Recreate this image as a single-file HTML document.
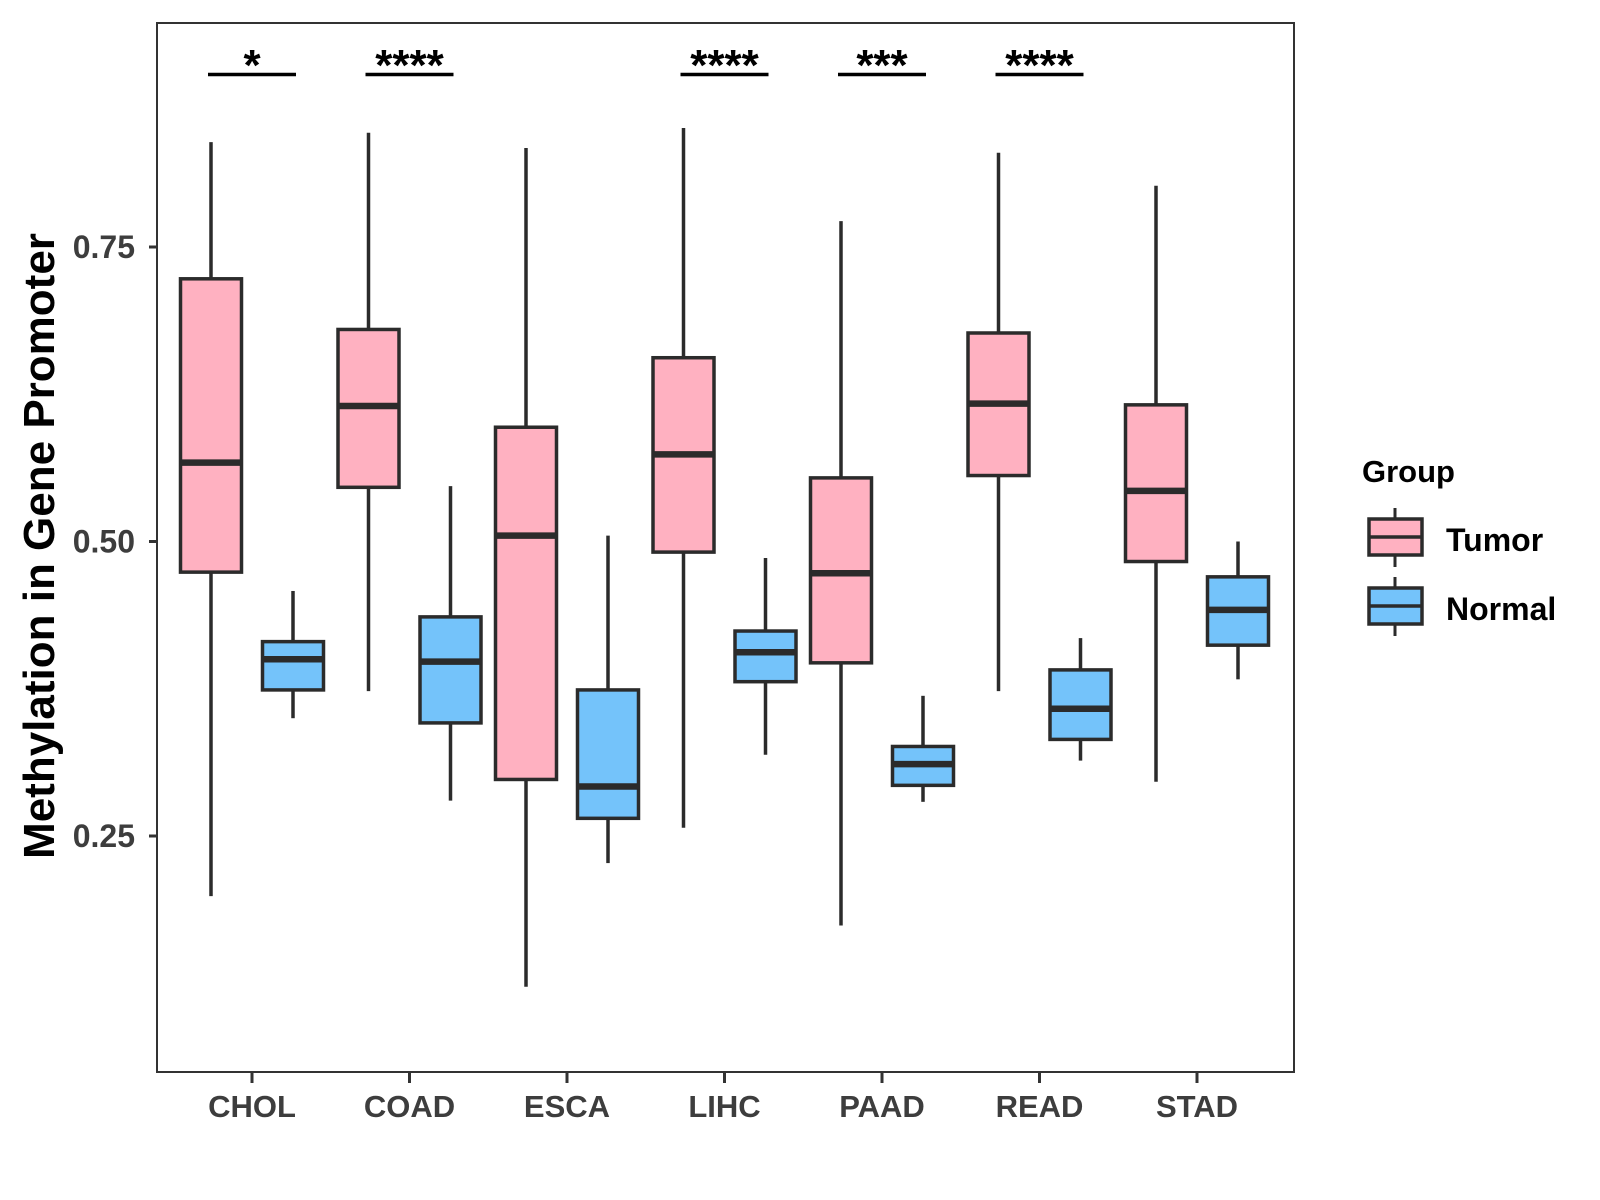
<!DOCTYPE html>
<html><head><meta charset="utf-8"><style>
body{margin:0;background:#fff}
svg{display:block;font-family:"Liberation Sans",Arial,sans-serif;font-weight:bold}
</style></head><body>
<svg id="chart" width="1600" height="1200" viewBox="0 0 1600 1200"></svg>
<script>
const categories=["CHOL","COAD","ESCA","LIHC","PAAD","READ","STAD"];
// [whiskerLow, Q1, median, Q3, whiskerHigh]
const tumorStats=[[0.199,0.474,0.567,0.723,0.839],[0.373,0.546,0.615,0.680,0.847],[0.122,0.298,0.505,0.597,0.834],[0.257,0.491,0.574,0.656,0.851],[0.174,0.397,0.473,0.554,0.772],[0.373,0.556,0.617,0.677,0.830],[0.296,0.483,0.543,0.616,0.802]];
const normalStats=[[0.350,0.374,0.400,0.415,0.458],[0.280,0.346,0.398,0.436,0.547],[0.227,0.265,0.292,0.374,0.505],[0.319,0.381,0.406,0.424,0.486],[0.279,0.293,0.311,0.326,0.369],[0.314,0.332,0.358,0.391,0.418],[0.383,0.412,0.442,0.470,0.500]];
const sigLabels=["*","****","","****","***","****",""];
const yTicks=[0.25,0.50,0.75];
const yTickLabels=["0.25","0.50","0.75"];

const NS="http://www.w3.org/2000/svg";
const svg=document.getElementById("chart");
const L=157,R=1294,T=23,B=1072;
function y(v){return 247+(0.75-v)*1178;}
function x(i){return 252+i*157.5;}
function el(tag,attrs,parent){const e=document.createElementNS(NS,tag);for(const k in attrs)e.setAttribute(k,attrs[k]);(parent||svg).appendChild(e);return e;}
const ink="#2b2b2b";

const frame=el("rect",{x:L,y:T,width:R-L,height:B-T,fill:"none",stroke:"#333",["stroke-width"]:2});



yTicks.forEach((v,i)=>{
  const t=el("line",{x1:L-8,x2:L,y1:y(v),y2:y(v),stroke:"#333","stroke-width":3});
  
  
  const tx=el("text",{x:L-22,y:y(v)+11,"text-anchor":"end","font-size":32,fill:"#3d3d3d"});
  tx.textContent=yTickLabels[i];
  
  
});
categories.forEach((c,i)=>{
  const t=el("line",{x1:x(i),x2:x(i),y1:B,y2:B+11,stroke:"#333","stroke-width":3});
  
  
  const tx=el("text",{x:x(i),y:1117,"text-anchor":"middle","font-size":31,fill:"#3d3d3d"});
  tx.textContent=c;
  
  
});
const yt=el("text",{x:0,y:0,transform:"translate(54,546) rotate(-90)","text-anchor":"middle","font-size":44,fill:"#000"});
yt.textContent="Methylation in Gene Promoter";



function box(cx,s,fill,name){
  const g=el("g",{});
  
  
  const hw=30.5;
  el("line",{x1:cx,x2:cx,y1:y(s[4]),y2:y(s[3]),stroke:ink,"stroke-width":3.5},g);
  el("line",{x1:cx,x2:cx,y1:y(s[1]),y2:y(s[0]),stroke:ink,"stroke-width":3.5},g);
  el("rect",{x:cx-hw,y:y(s[3]),width:2*hw,height:y(s[1])-y(s[3]),fill:fill,stroke:ink,"stroke-width":3.5},g);
  el("line",{x1:cx-hw,x2:cx+hw,y1:y(s[2]),y2:y(s[2]),stroke:ink,"stroke-width":6.5},g);
}
categories.forEach((c,i)=>{
  box(x(i)-41,tumorStats[i],"#FFB1C1","box-tumor-"+c.toLowerCase());
  box(x(i)+41,normalStats[i],"#74C3FA","box-normal-"+c.toLowerCase());
  if(sigLabels[i]){
    const b=el("line",{x1:x(i)-44,x2:x(i)+44,y1:74.5,y2:74.5,stroke:"#000","stroke-width":3.5});
    
    
    const s=el("text",{x:x(i),y:80,"text-anchor":"middle","font-size":44,fill:"#000"});
    s.textContent=sigLabels[i];
    
    
  }
});

// legend
const lt=el("text",{x:1362,y:482,"font-size":31,fill:"#000"});
lt.textContent="Group";


[["Tumor","#FFB1C1",519,551],["Normal","#74C3FA",588,620]].forEach(([lab,col,top,base])=>{
  const g=el("g",{});
  
  
  el("line",{x1:1395,x2:1395,y1:top-11,y2:top+48,stroke:ink,"stroke-width":3},g);
  el("rect",{x:1369,y:top,width:53,height:36,fill:col,stroke:ink,"stroke-width":3.5},g);
  el("line",{x1:1369,x2:1422,y1:top+18,y2:top+18,stroke:ink,"stroke-width":3.5},g);
  const t=el("text",{x:1446,y:base,"font-size":32,fill:"#000"},g);
  t.textContent=lab;
});
</script>
</body></html>
